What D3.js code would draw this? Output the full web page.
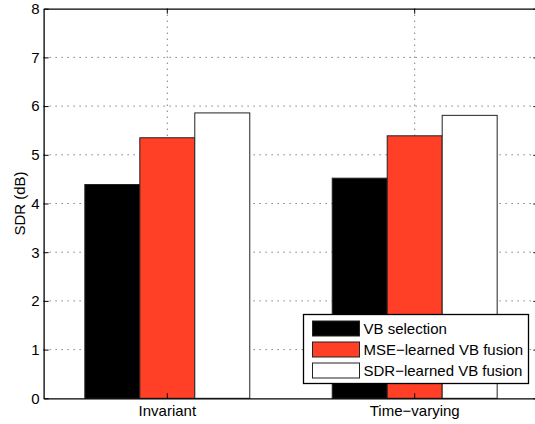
<!DOCTYPE html>
<html>
<head>
<meta charset="utf-8">
<script src="https://cdn.jsdelivr.net/npm/d3@7"></script>
<style>
  body { margin: 0; background: #fff; }
  svg { display: block; font-family: "Liberation Sans", Arial, sans-serif; }
</style>
</head>
<body>
<svg width="535" height="424"></svg>
<script>
const categories = ["Invariant", "Time\u2212varying"];
const seriesNames = ["VB selection", "MSE\u2212learned VB fusion", "SDR\u2212learned VB fusion"];
const seriesColors = ["#000000", "#ff4026", "#ffffff"];
const vbSelection = [4.39, 4.52];
const mseFusion = [5.35, 5.39];
const sdrFusion = [5.86, 5.81];
const yTicks = [0, 1, 2, 3, 4, 5, 6, 7, 8];

const seriesValues = [vbSelection, mseFusion, sdrFusion];

const svg = d3.select("svg");

// axes box (right side runs slightly past the picture, as in the original)
const boxLeft = 43.6, boxRight = 538.4, boxTop = 8.7, boxBottom = 398.3;

const x0 = d3.scaleBand()
  .domain(categories)
  .range([boxLeft, boxRight])
  .paddingInner(1 / 3)
  .paddingOuter(1 / 6);

const x1 = d3.scaleBand()
  .domain(d3.range(seriesNames.length))
  .range([0, x0.bandwidth()]);

const y = d3.scaleLinear().domain([0, 8]).range([boxBottom, boxTop]);

const center = c => x0(c) + x0.bandwidth() / 2;

// dotted grid
const grid = svg.append("g")
  .attr("stroke", "#444")
  .attr("stroke-width", 1)
  .attr("stroke-dasharray", "1,5");

grid.selectAll("line.h")
  .data(yTicks.filter(t => t > 0 && t < 8))
  .join("line")
  .attr("x1", boxLeft).attr("x2", boxRight)
  .attr("y1", d => y(d)).attr("y2", d => y(d));

grid.selectAll("line.v")
  .data(categories)
  .join("line")
  .attr("x1", center).attr("x2", center)
  .attr("y1", boxTop).attr("y2", boxBottom);

// bars
const bars = svg.append("g");
categories.forEach((c, ci) => {
  bars.append("g")
    .attr("transform", `translate(${x0(c)},0)`)
    .selectAll("rect")
    .data(seriesValues.map((s, si) => ({ si, v: s[ci] })))
    .join("rect")
    .attr("x", d => x1(d.si))
    .attr("width", x1.bandwidth())
    .attr("y", d => y(d.v))
    .attr("height", d => y(0) - y(d.v))
    .attr("fill", d => seriesColors[d.si])
    .attr("stroke", "#222")
    .attr("stroke-width", 1);
});

// axes
const yAxis = d3.axisLeft(y).tickValues(yTicks).tickSize(-5).tickPadding(4).tickSizeOuter(0);
svg.append("g")
  .attr("transform", `translate(${boxLeft},0)`)
  .call(yAxis)
  .call(g => g.select(".domain").attr("stroke", "#000").attr("stroke-width", 1.3))
  .call(g => g.selectAll(".tick line").attr("stroke", "#000"))
  .call(g => g.selectAll("text").attr("font-size", 15).attr("fill", "#000")
    .attr("font-family", "Liberation Sans, Arial, sans-serif"));

const yRight = d3.axisRight(y).tickValues(yTicks).tickSize(-5).tickFormat("").tickSizeOuter(0);
svg.append("g")
  .attr("transform", `translate(${boxRight},0)`)
  .call(yRight)
  .call(g => g.select(".domain").attr("stroke", "#000").attr("stroke-width", 1.3));

const xAxis = d3.axisBottom(x0).tickSize(-5).tickPadding(7).tickSizeOuter(0);
svg.append("g")
  .attr("transform", `translate(0,${boxBottom})`)
  .call(xAxis)
  .call(g => g.select(".domain").attr("stroke", "#000").attr("stroke-width", 1.3))
  .call(g => g.selectAll(".tick line").attr("stroke", "#000"))
  .call(g => g.selectAll("text").attr("font-size", 15).attr("fill", "#000")
    .attr("font-family", "Liberation Sans, Arial, sans-serif"));

const xTop = d3.axisTop(x0).tickSize(-5).tickFormat("").tickSizeOuter(0);
svg.append("g")
  .attr("transform", `translate(0,${boxTop})`)
  .call(xTop)
  .call(g => g.select(".domain").attr("stroke", "#000").attr("stroke-width", 1.3));

// y label
svg.append("text")
  .attr("transform", `translate(25,${(boxTop + boxBottom) / 2}) rotate(-90)`)
  .attr("text-anchor", "middle")
  .attr("font-size", 15)
  .text("SDR (dB)");

// legend
const legend = svg.append("g").attr("transform", "translate(303.5,314.5)");
legend.append("rect")
  .attr("width", 225).attr("height", 69)
  .attr("fill", "#fff").attr("stroke", "#000").attr("stroke-width", 1.3);

const rowY = d3.scalePoint().domain(d3.range(seriesNames.length)).range([14, 56]);
const rows = legend.selectAll("g.row")
  .data(seriesNames)
  .join("g")
  .attr("transform", (d, i) => `translate(0,${rowY(i)})`);

rows.append("rect")
  .attr("x", 9).attr("y", -7.5)
  .attr("width", 47).attr("height", 15)
  .attr("fill", (d, i) => seriesColors[i])
  .attr("stroke", "#222").attr("stroke-width", 1);

rows.append("text")
  .attr("x", 60)
  .attr("dy", "0.36em")
  .attr("font-size", 15)
  .text(d => d);
</script>
</body>
</html>
